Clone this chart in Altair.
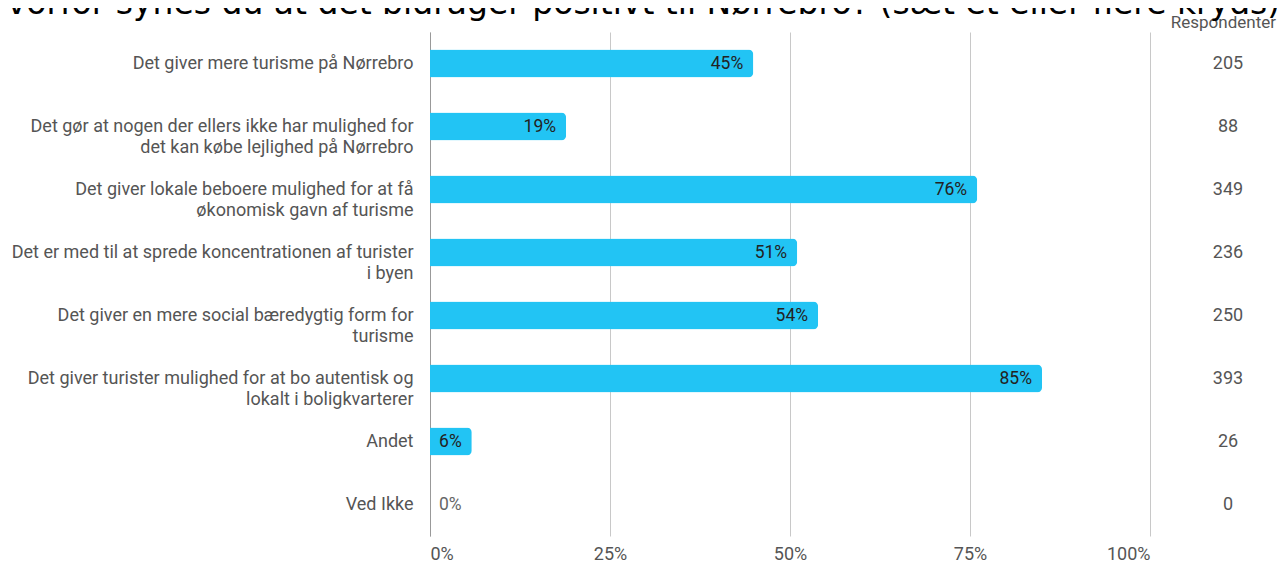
import altair as alt
import pandas as pd

title_text = "Hvorfor synes du at det bidrager positivt til Nørrebro? (sæt et eller flere kryds)"
column_header = "Respondenter"

categories = [
    "Det giver mere turisme på Nørrebro",
    "Det gør at nogen der ellers ikke har mulighed for\ndet kan købe lejlighed på Nørrebro",
    "Det giver lokale beboere mulighed for at få\nøkonomisk gavn af turisme",
    "Det er med til at sprede koncentrationen af turister\ni byen",
    "Det giver en mere social bæredygtig form for\nturisme",
    "Det giver turister mulighed for at bo autentisk og\nlokalt i boligkvarterer",
    "Andet",
    "Ved Ikke",
]
percent = [44.9, 18.9, 76.0, 51.0, 53.9, 85.0, 5.8, 0.0]
respondents = [205, 88, 349, 236, 250, 393, 26, 0]
tick_values = [0, 25, 50, 75, 100]

df = pd.DataFrame({
    "cat": categories,
    "pct": percent,
    "resp": respondents,
})
df["label"] = [f"{round(p)}%" for p in percent]

FONT = "Roboto"

y_enc = alt.Y(
    "cat:N",
    sort=categories,
    scale=alt.Scale(paddingInner=0.556, paddingOuter=0.278),
    axis=alt.Axis(
        title=None,
        labelExpr="split(datum.label, '\\n')",
        labelFont=FONT,
        labelFontSize=18,
        labelColor="#555555",
        labelLimit=600,
        labelLineHeight=21,
        labelPadding=17,
        ticks=False,
        domain=True,
        domainColor="#999999",
        domainWidth=1,
        grid=False,
    ),
)

x_enc = alt.X(
    "pct:Q",
    scale=alt.Scale(domain=[0, 100], nice=False),
    axis=alt.Axis(
        title=None,
        values=tick_values,
        labelExpr="datum.value + '%'",
        labelFont=FONT,
        labelFontSize=18,
        labelColor="#555555",
        labelPadding=9,
        labelFlush=True,
        ticks=False,
        domain=False,
        grid=True,
        gridColor="#c8c8c8",
        gridWidth=1,
    ),
)

base = alt.Chart(df)

bars = base.mark_bar(color="#22c4f4", cornerRadiusEnd=5).encode(x=x_enc, y=y_enc)

inside = base.transform_filter("datum.pct > 0").mark_text(
    align="right", baseline="middle", dx=-10, font=FONT, fontSize=17.5, color="#222222"
).encode(x="pct:Q", y=alt.Y("cat:N", sort=categories), text="label:N")

outside = base.transform_filter("datum.pct <= 0").mark_text(
    align="left", baseline="middle", dx=9, font=FONT, fontSize=17.5, color="#666666"
).encode(x="pct:Q", y=alt.Y("cat:N", sort=categories), text="label:N")

resp_text = base.mark_text(
    align="center", baseline="middle", font=FONT, fontSize=18, color="#555555"
).encode(x=alt.value(798), y=alt.Y("cat:N", sort=categories), text="resp:Q")

header = alt.Chart(pd.DataFrame({"t": [column_header]})).mark_text(
    align="right", baseline="alphabetic", font=FONT, fontSize=17, color="#555555"
).encode(x=alt.value(846), y=alt.value(-4), text="t:N")

title = alt.Chart(pd.DataFrame({"t": [title_text]})).mark_text(
    align="center", baseline="alphabetic", font="DejaVu Sans", fontSize=33, color="#000000"
).encode(x=alt.value(201), y=alt.value(-18), text="t:N")

chart = alt.layer(bars, inside, outside, resp_text, header, title).properties(
    width=720,
    height=504,
    autosize=alt.AutoSizeParams(type="none"),
    padding={"left": 422, "top": 24, "right": 127, "bottom": 27},
).configure_view(stroke=None)

chart.save("out.html", embed_options={"renderer": "svg", "actions": False})
